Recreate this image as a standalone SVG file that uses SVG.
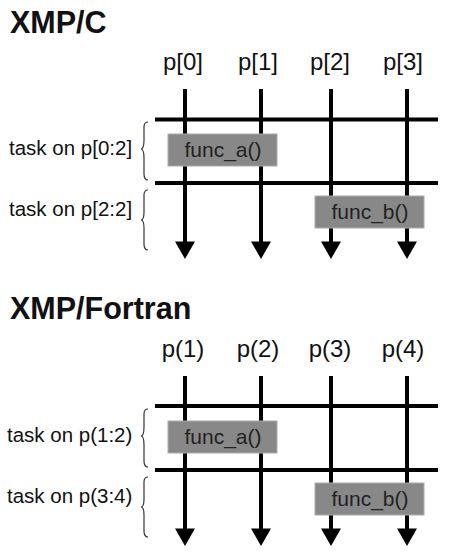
<svg xmlns="http://www.w3.org/2000/svg" width="450" height="557" viewBox="0 0 450 557">
<style>
.title{font-family:"Liberation Sans",Arial,sans-serif;font-weight:bold;font-size:30.5px;fill:#111}
.plab{font-family:"Liberation Sans",Arial,sans-serif;font-size:24px;fill:#111;text-anchor:middle}
.task{font-family:"Liberation Sans",Arial,sans-serif;font-size:20.5px;fill:#111}
.ftxt{font-family:"Liberation Sans",Arial,sans-serif;font-size:21px;fill:#222;text-anchor:middle}
.line{stroke:#000;stroke-width:4;fill:none}
.box{fill:#888;stroke:#aaa;stroke-width:1}
.brace{fill:none;stroke:#333;stroke-width:1.2}
</style>
<defs>
<polygon id="ah" points="-10,0 10,0 0,17.5" fill="#000"/>
</defs>
<rect width="450" height="557" fill="#fff"/>
<g id="section-c">
  <text class="title" x="10" y="33">XMP/C</text>
  <g id="labels-c">
    <text class="plab" x="183" y="70">p[0]</text>
    <text class="plab" x="258" y="70">p[1]</text>
    <text class="plab" x="330" y="70">p[2]</text>
    <text class="plab" x="403" y="70">p[3]</text>
  </g>
  <g id="connectors-c">
    <line class="line" x1="185" y1="89" x2="185" y2="243"/>
    <line class="line" x1="261" y1="89" x2="261" y2="243"/>
    <line class="line" x1="331" y1="89" x2="331" y2="243"/>
    <line class="line" x1="407" y1="89" x2="407" y2="243"/>
    <use href="#ah" x="185" y="241.5"/>
    <use href="#ah" x="261" y="241.5"/>
    <use href="#ah" x="331" y="241.5"/>
    <use href="#ah" x="407" y="241.5"/>
    <line class="line" x1="155" y1="119.5" x2="438" y2="119.5"/>
    <line class="line" x1="155" y1="183" x2="438" y2="183"/>
  </g>
  <g id="task-c1">
    <text class="task" x="9" y="155">task on p[0:2]</text>
    <path class="brace" d="M148,122 Q144,122 144,127 L144,140 Q144,149 141,149 Q144,149 144,158 L144,174 Q144,180 148,180"/>
  </g>
  <g id="task-c2">
    <text class="task" x="9" y="216">task on p[2:2]</text>
    <path class="brace" d="M148,190 Q144,190 144,195 L144,212 Q144,220 141,220 Q144,220 144,228 L144,244 Q144,250 148,250"/>
  </g>
  <g id="func-a-c">
    <rect class="box" x="168" y="134" width="109" height="32"/>
    <text class="ftxt" x="223" y="156.5">func_a()</text>
  </g>
  <g id="func-b-c">
    <rect class="box" x="315" y="196" width="109" height="32"/>
    <text class="ftxt" x="370" y="218.5">func_b()</text>
  </g>
</g>
<g id="section-f">
  <text class="title" x="10" y="319">XMP/Fortran</text>
  <g id="labels-f">
    <text class="plab" x="183" y="357">p(1)</text>
    <text class="plab" x="258" y="357">p(2)</text>
    <text class="plab" x="330" y="357">p(3)</text>
    <text class="plab" x="403" y="357">p(4)</text>
  </g>
  <g id="connectors-f">
    <line class="line" x1="185" y1="376" x2="185" y2="530"/>
    <line class="line" x1="261" y1="376" x2="261" y2="530"/>
    <line class="line" x1="331" y1="376" x2="331" y2="530"/>
    <line class="line" x1="407" y1="376" x2="407" y2="530"/>
    <use href="#ah" x="185" y="528.5"/>
    <use href="#ah" x="261" y="528.5"/>
    <use href="#ah" x="331" y="528.5"/>
    <use href="#ah" x="407" y="528.5"/>
    <line class="line" x1="155" y1="406" x2="438" y2="406"/>
    <line class="line" x1="155" y1="470" x2="438" y2="470"/>
  </g>
  <g id="task-f1">
    <text class="task" x="7" y="442">task on p(1:2)</text>
    <path class="brace" d="M148,409 Q144,409 144,414 L144,427 Q144,436 141,436 Q144,436 144,445 L144,461 Q144,467 148,467"/>
  </g>
  <g id="task-f2">
    <text class="task" x="7" y="503">task on p(3:4)</text>
    <path class="brace" d="M148,477 Q144,477 144,482 L144,499 Q144,507 141,507 Q144,507 144,515 L144,531 Q144,537 148,537"/>
  </g>
  <g id="func-a-f">
    <rect class="box" x="168" y="421" width="109" height="32"/>
    <text class="ftxt" x="223" y="443.5">func_a()</text>
  </g>
  <g id="func-b-f">
    <rect class="box" x="315" y="483" width="109" height="32"/>
    <text class="ftxt" x="370" y="505.5">func_b()</text>
  </g>
</g>
</svg>
